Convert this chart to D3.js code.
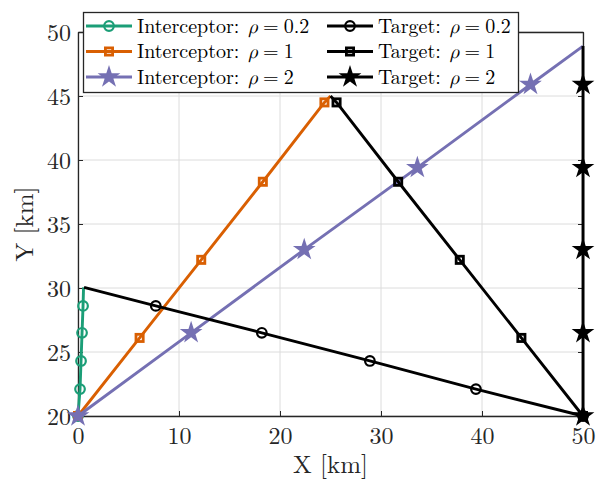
<!DOCTYPE html>
<html>
<head>
<meta charset="utf-8">
<script src="https://cdn.jsdelivr.net/npm/d3@7"></script>
<style>
  body { margin: 0; background: #fff; }
</style>
</head>
<body>
<div id="chart"></div>
<script>
// trajectories, [x km, y km]; markers on the first five points
const interceptor02 = [[0, 20], [0.2, 22.1], [0.3, 24.3], [0.4, 26.5], [0.5, 28.6], [0.55, 30.05]];
const target02 = [[50, 20], [39.4, 22.1], [28.9, 24.3], [18.2, 26.5], [7.7, 28.6], [0.6, 30.05]];
const interceptor1 = [[0, 20], [6.1, 26.1], [12.2, 32.2], [18.3, 38.3], [24.4, 44.5], [25, 45]];
const target1 = [[50, 20], [43.9, 26.1], [37.8, 32.2], [31.7, 38.3], [25.6, 44.5], [25, 45]];
const interceptor2 = [[0, 20], [11.2, 26.5], [22.4, 33.0], [33.6, 39.4], [44.8, 45.9], [50, 48.9]];
const target2 = [[50, 20], [50, 26.5], [50, 33.0], [50, 39.4], [50, 45.9], [50, 48.9]];

const xTicks = [0, 10, 20, 30, 40, 50];
const yTicks = [20, 25, 30, 35, 40, 45, 50];

const series = [
  { name: "Interceptor", rho: "0.2", data: interceptor02, color: "#1b9e77", marker: "circle" },
  { name: "Interceptor", rho: "1", data: interceptor1, color: "#d95f02", marker: "square" },
  { name: "Interceptor", rho: "2", data: interceptor2, color: "#7570b3", marker: "star" },
  { name: "Target", rho: "0.2", data: target02, color: "#000000", marker: "circle" },
  { name: "Target", rho: "1", data: target1, color: "#000000", marker: "square" },
  { name: "Target", rho: "2", data: target2, color: "#000000", marker: "star" }
];

const FONT = "'Latin Modern Roman', 'Liberation Serif', serif";
const MATH = "'Latin Modern Math', 'Liberation Serif', serif";
const width = 606, height = 480;
const margin = { left: 78, right: 23, top: 32, bottom: 64 };
const iw = width - margin.left - margin.right;
const ih = height - margin.top - margin.bottom;

const svg = d3.select("#chart").append("svg")
  .attr("width", width).attr("height", height)
  .attr("font-family", FONT);

const x = d3.scaleLinear().domain([0, 50]).range([margin.left, margin.left + iw]);
const y = d3.scaleLinear().domain([20, 50]).range([margin.top + ih, margin.top]);

// grid
svg.append("g").selectAll("line").data(xTicks).join("line")
  .attr("x1", d => x(d)).attr("x2", d => x(d))
  .attr("y1", margin.top).attr("y2", margin.top + ih)
  .attr("stroke", "#dcdcdc").attr("stroke-width", 1);
svg.append("g").selectAll("line").data(yTicks).join("line")
  .attr("x1", margin.left).attr("x2", margin.left + iw)
  .attr("y1", d => y(d)).attr("y2", d => y(d))
  .attr("stroke", "#dcdcdc").attr("stroke-width", 1);

// axes with inward ticks
const xAxis = svg.append("g")
  .attr("transform", "translate(0," + (margin.top + ih) + ")")
  .call(d3.axisBottom(x).tickValues(xTicks).tickSizeInner(-5).tickSizeOuter(0).tickPadding(11));
const yAxis = svg.append("g")
  .attr("transform", "translate(" + margin.left + ",0)")
  .call(d3.axisLeft(y).tickValues(yTicks).tickSizeInner(-5).tickSizeOuter(0).tickPadding(7));
svg.append("g")
  .attr("transform", "translate(0," + margin.top + ")")
  .call(d3.axisTop(x).tickValues(xTicks).tickSizeInner(-5).tickSizeOuter(0).tickFormat(""));
svg.append("g")
  .attr("transform", "translate(" + (margin.left + iw) + ",0)")
  .call(d3.axisRight(y).tickValues(yTicks).tickSizeInner(-5).tickSizeOuter(0).tickFormat(""));

svg.selectAll("g").attr("font-family", FONT).attr("font-size", null);
svg.selectAll(".domain").attr("stroke", "#262626").attr("stroke-width", 1.3);
svg.selectAll(".tick line").attr("stroke", "#262626");
xAxis.selectAll("text").attr("font-size", 24).attr("fill", "#262626");
yAxis.selectAll("text").attr("font-size", 24).attr("fill", "#262626").attr("dy", "0.35em");

svg.append("text")
  .attr("x", x(25)).attr("y", 473)
  .attr("text-anchor", "middle").attr("font-size", 25)
  .attr("fill", "#262626")
  .text("X [km]");
svg.append("text")
  .attr("transform", "translate(33," + y(35) + ") rotate(-90)")
  .attr("text-anchor", "middle").attr("font-size", 25)
  .attr("fill", "#262626")
  .text("Y [km]");

const starPath = d3.symbol(d3.symbolStar, 160)();
function drawMarker(g, type, color) {
  if (type === "circle") {
    g.append("circle").attr("r", 4.8)
      .attr("fill", "none").attr("stroke", color).attr("stroke-width", 2.2);
  } else if (type === "square") {
    g.append("rect").attr("x", -3.6).attr("y", -3.6).attr("width", 7.2).attr("height", 7.2)
      .attr("fill", "none").attr("stroke", color).attr("stroke-width", 2.8);
  } else {
    g.append("path").attr("d", starPath).attr("fill", color);
  }
}

const line = d3.line().x(d => x(d[0])).y(d => y(d[1]));
const plot = svg.append("g");
series.forEach(s => {
  plot.append("path").datum(s.data)
    .attr("d", line).attr("fill", "none")
    .attr("stroke", s.color).attr("stroke-width", 2.9)
    .attr("stroke-linejoin", "round");
  s.data.slice(0, 5).forEach(p => {
    drawMarker(plot.append("g").attr("transform", "translate(" + x(p[0]) + "," + y(p[1]) + ")"), s.marker, s.color);
  });
});

// legend
const legend = svg.append("g");
legend.append("rect")
  .attr("x", 83.5).attr("y", 12.5).attr("width", 435).attr("height", 80)
  .attr("fill", "#fff").attr("stroke", "#262626").attr("stroke-width", 1.3);
const colX = [86, 327];
const labelRows = [];
series.forEach((s, i) => {
  const col = Math.floor(i / 3), row = i % 3;
  const ly = 26 + row * 25.5;
  const g = legend.append("g").attr("transform", "translate(" + colX[col] + "," + ly + ")");
  g.append("line").attr("x1", 0).attr("x2", 46).attr("stroke", s.color).attr("stroke-width", 2.9);
  drawMarker(g.append("g").attr("transform", "translate(23,0)"), s.marker, s.color);
  const pieces = [
    { t: s.name + ":", gap: 9, italic: false, font: FONT },
    { t: "ρ", gap: 5, italic: true, font: MATH },
    { t: "=", gap: 5, italic: false, font: FONT },
    { t: s.rho, gap: 0, italic: false, font: FONT }
  ];
  labelRows.push(pieces.map(p => ({
    gap: p.gap,
    el: g.append("text").attr("x", 51).attr("y", 0).attr("dy", "0.33em")
      .attr("font-size", 20).attr("font-family", p.font)
      .attr("font-style", p.italic ? "italic" : null)
      .attr("fill", "#000").text(p.t)
  })));
});

// lay the label pieces out once the fonts are ready so widths are right
function layoutLabels() {
  labelRows.forEach(row => {
    let cx = 51;
    row.forEach(p => {
      p.el.attr("x", cx);
      cx += p.el.node().getComputedTextLength() + p.gap;
    });
  });
}
layoutLabels();
if (document.fonts && document.fonts.ready) document.fonts.ready.then(layoutLabels);
</script>
</body>
</html>
